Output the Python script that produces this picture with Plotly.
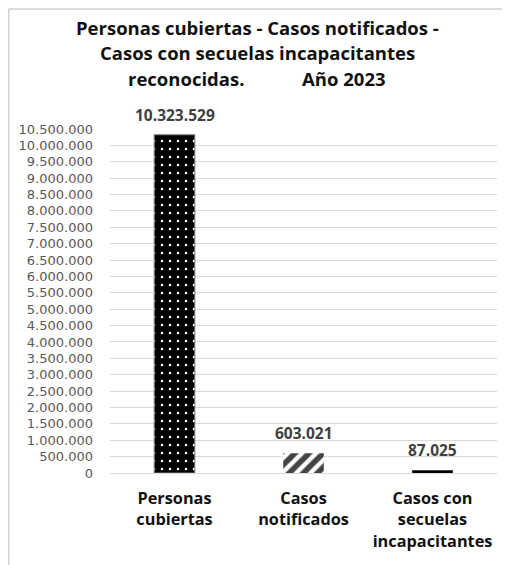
import plotly.graph_objects as go

categories = ["Personas<br>cubiertas", "Casos<br>notificados", "Casos con<br>secuelas<br>incapacitantes"]
values = [10323529, 603021, 87025]
value_labels = ["10.323.529", "603.021", "87.025"]
title_lines = ["Personas cubiertas - Casos notificados -",
               "Casos con secuelas incapacitantes",
               "reconocidas.            Año 2023"]
tick_vals = list(range(0, 10500001, 500000))
tick_text = ["0"] + [f"{v:,}".replace(",", ".") for v in tick_vals[1:]]

FONT = "Open Sans"

fig = go.Figure()
fig.add_trace(go.Bar(
    x=categories,
    y=values,
    width=0.315,
    marker=dict(
        color=["black", "white", "black"],
        line=dict(color=["#7f7f7f", "white", "black"], width=[1, 0, 0]),
        pattern=dict(
            shape=[".", "/", ""],
            fgcolor=["white", "black", "black"],
            bgcolor=["black", "white", "black"],
            fgopacity=1,
            size=[8, 10, 8],
            solidity=[0.08, 0.55, 0.3],
        ),
    ),
    hoverinfo="skip",
))

for c, v, t in zip(categories, values, value_labels):
    fig.add_annotation(x=c, y=v, text=f"<b>{t}</b>", showarrow=False,
                       yanchor="bottom", yshift=7,
                       font=dict(family=FONT, size=15.5, color="#404040"))

for line, ty in zip(title_lines, [1.2965, 1.2238, 1.148]):
    fig.add_annotation(xref="paper", yref="paper", x=0.38, y=ty,
                       text=f"<b>{line}</b>", showarrow=False,
                       xanchor="center", yanchor="middle",
                       font=dict(family=FONT, size=18.5, color="#111111"))

fig.update_layout(
    width=502, height=557,
    margin=dict(l=102, r=13, t=121, b=92),
    paper_bgcolor="white", plot_bgcolor="white",
    separators=",.",
    showlegend=False,
    font=dict(family=FONT),
    shapes=[
        dict(type="line", xref="paper", yref="paper", x0=-0.262, x1=1.04, y0=1.349, y1=1.349,
             line=dict(color="#d0d0d0", width=1.5)),
        dict(type="line", xref="paper", yref="paper", x0=-0.262, x1=-0.262, y0=1.349, y1=-0.3,
             line=dict(color="#d0d0d0", width=1.5)),
    ],
)

fig.update_yaxes(
    range=[0, 10500000],
    tickvals=tick_vals, ticktext=tick_text,
    showgrid=True, gridcolor="#d9d9d9", gridwidth=1,
    zeroline=True, zerolinecolor="#d9d9d9", zerolinewidth=1,
    showline=False, ticks="",
    ticklabelstandoff=16,
    tickfont=dict(family="DejaVu Sans", size=13, color="#595959"),
)
fig.update_xaxes(
    showline=False, ticks="",
    tickfont=dict(family=FONT, size=16.3, color="#111111"),
    tickprefix="<b>", ticksuffix="</b>",
    ticklabelstandoff=14,
)

fig.write_html("out.html")
